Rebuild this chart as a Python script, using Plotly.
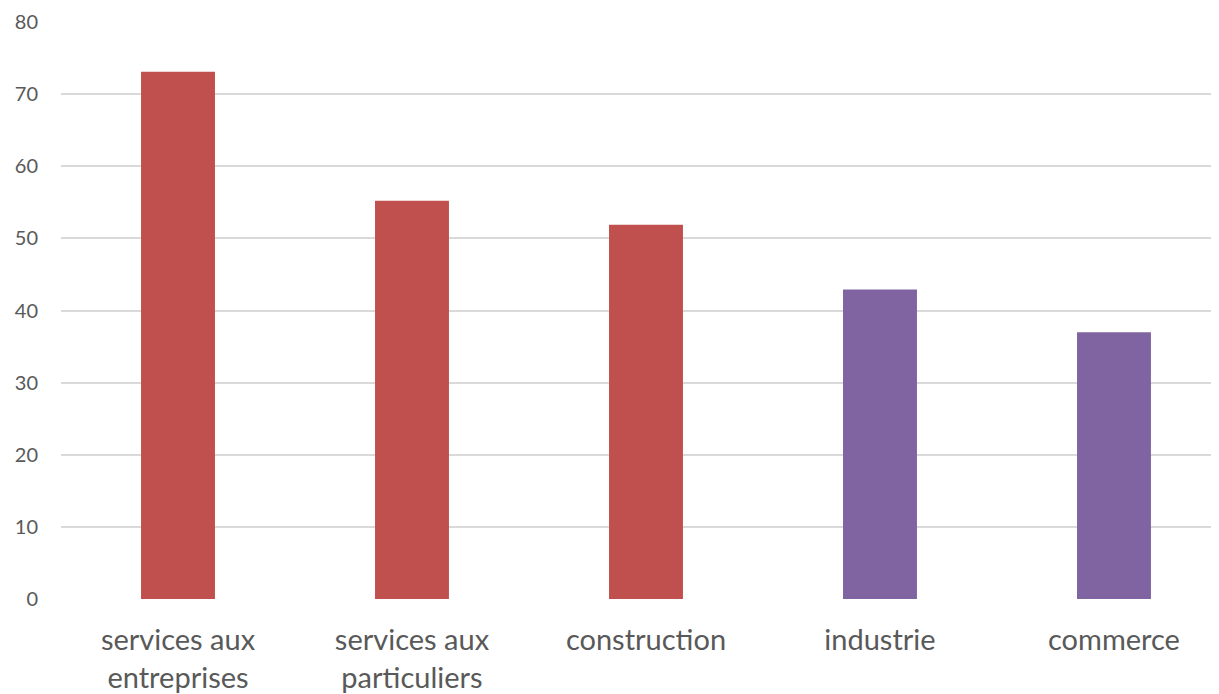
import plotly.graph_objects as go

categories = ["services aux<br>entreprises", "services aux<br>particuliers", "construction", "industrie", "commerce"]
values = [73.1, 55.2, 51.9, 42.9, 37.0]
colors = ["#C0504D", "#C0504D", "#C0504D", "#8064A2", "#8064A2"]
y_ticks = [0, 10, 20, 30, 40, 50, 60, 70, 80]

fig = go.Figure(go.Bar(x=categories, y=values, marker=dict(color=colors, line=dict(width=0)), width=0.316))

fig.update_layout(
    width=1219, height=686,
    margin=dict(l=53, r=0, t=14, b=95, autoexpand=False),
    paper_bgcolor="white", plot_bgcolor="white",
    font=dict(family="Lato", color="#595959"),
    showlegend=False,
    xaxis=dict(range=[-0.5, 4.483], showgrid=False, showline=False, zeroline=False,
               tickfont=dict(size=29, color="#595959"), ticks="", ticklabelstandoff=21,
               automargin=False),
    yaxis=dict(range=[0, 80], tickvals=y_ticks, showgrid=True, gridcolor="#D9D9D9", gridwidth=1.5,
               zeroline=False, showline=False, ticks="", tickfont=dict(size=20, color="#595959"),
               ticklabelstandoff=22, automargin=False),
)

fig.write_html("out.html")
